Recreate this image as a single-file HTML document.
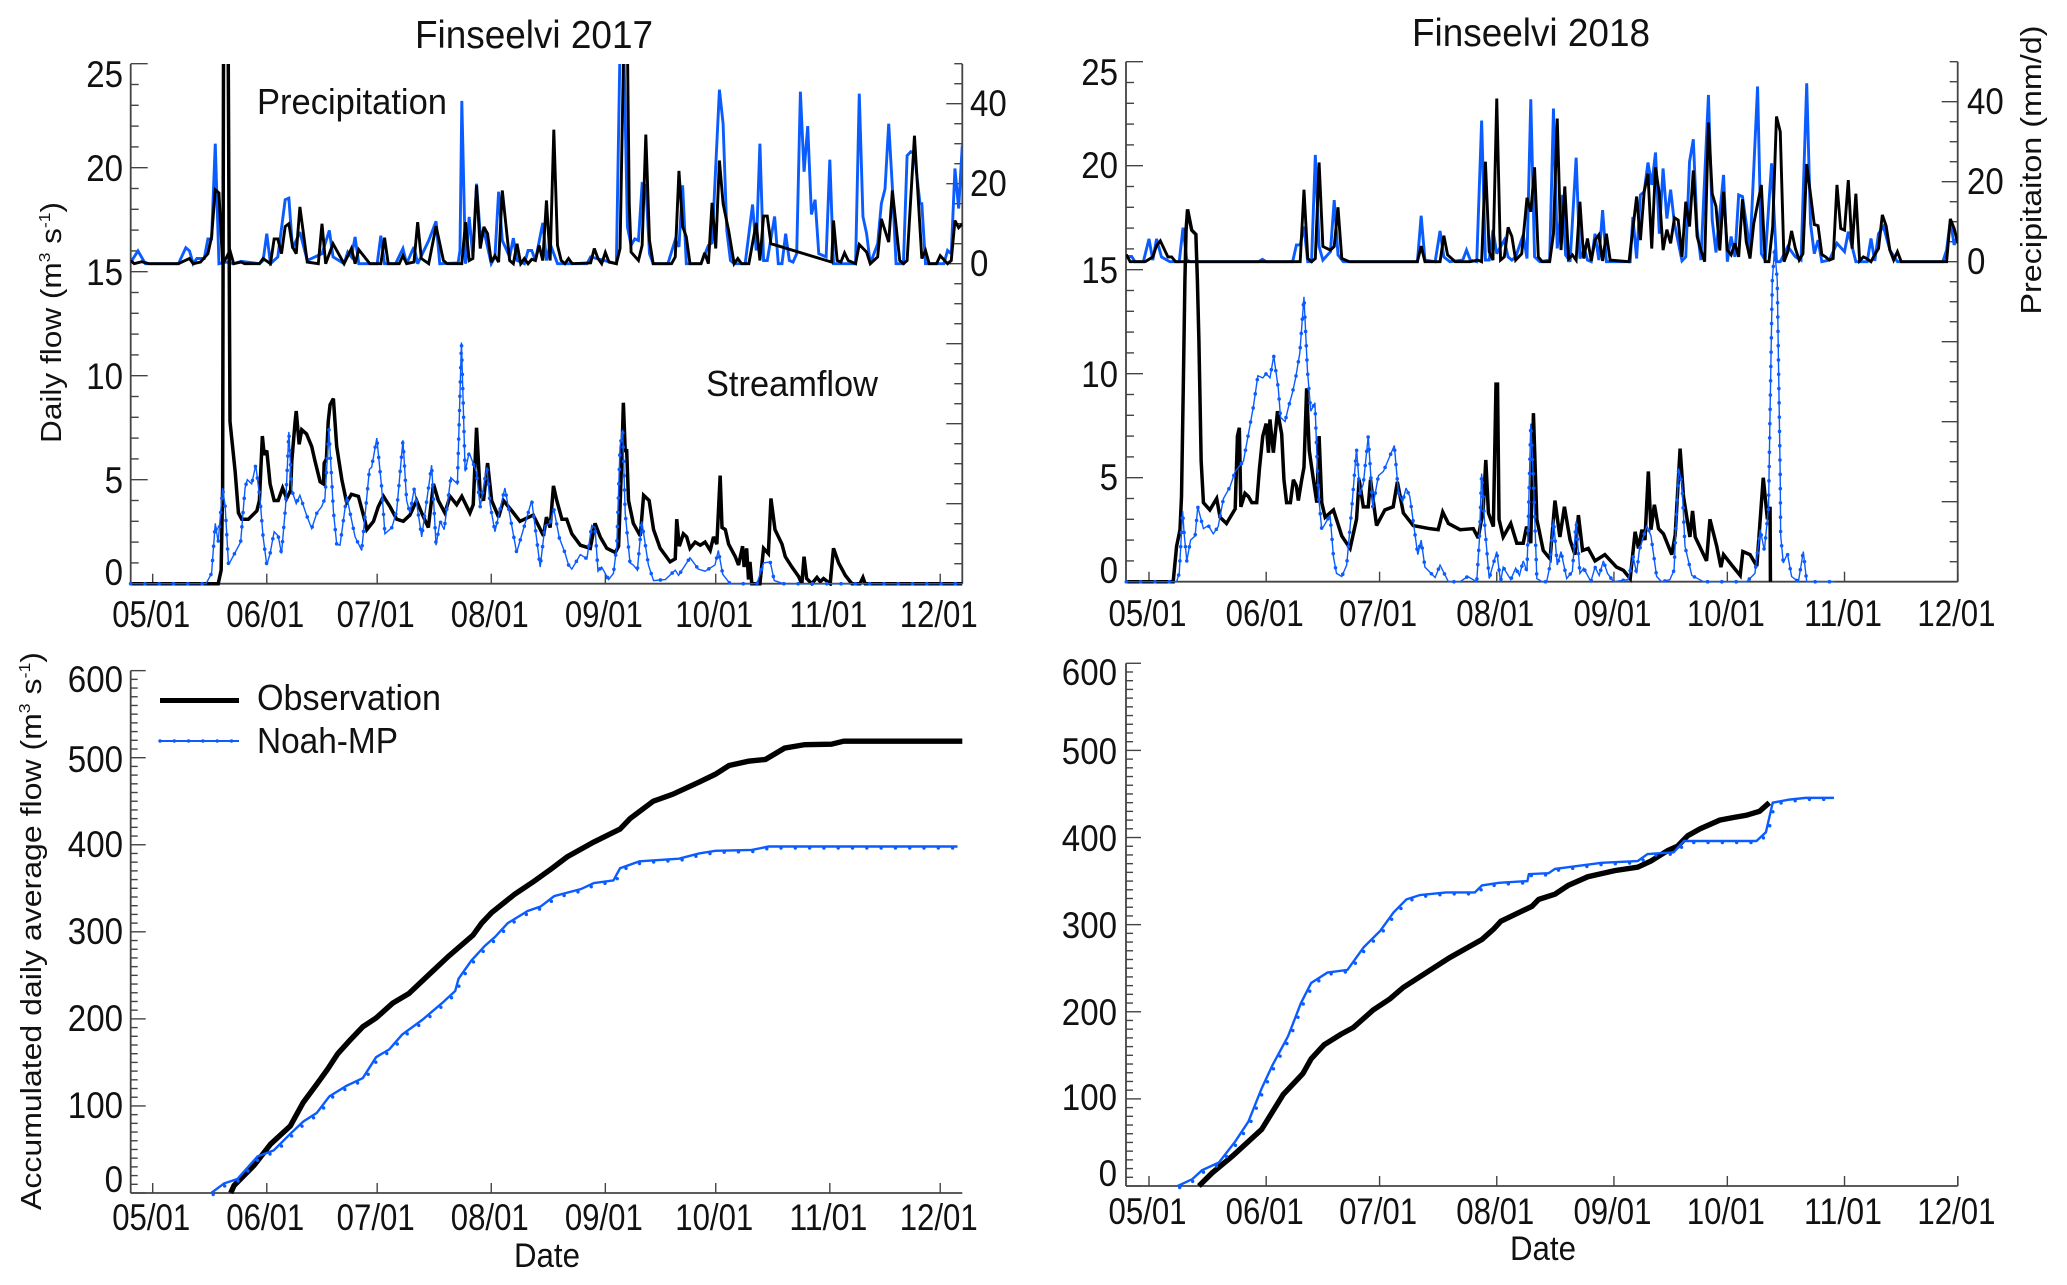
<!DOCTYPE html>
<html lang="en">
<head>
<meta charset="utf-8">
<title>Finseelvi streamflow 2017 and 2018</title>
<style>
html,body{margin:0;padding:0;background:#fff;}
svg{display:block;}
text{font-family:"Liberation Sans",sans-serif;fill:#111;}
</style>
</head>
<body>
<svg id="figure" xmlns="http://www.w3.org/2000/svg" width="2067" height="1285" viewBox="0 0 2067 1285">
  <defs>
    <clipPath id="clip-tl"><rect x="130.7" y="64" width="831.6" height="522"/></clipPath>
    <clipPath id="clip-tr"><rect x="1126" y="61.7" width="831.7" height="522"/></clipPath>
  </defs>
  <rect width="2067" height="1285" fill="#fff"/>
  <text x="534" y="48" font-size="39" text-anchor="middle" textLength="238" lengthAdjust="spacingAndGlyphs">Finseelvi 2017</text>
  <text x="1531" y="46" font-size="39" text-anchor="middle" textLength="238" lengthAdjust="spacingAndGlyphs">Finseelvi 2018</text>
  <text x="257" y="114" font-size="36" textLength="190" lengthAdjust="spacingAndGlyphs">Precipitation</text>
  <text x="706" y="396" font-size="36" textLength="172" lengthAdjust="spacingAndGlyphs">Streamflow</text>
  <text transform="translate(61,322.5) rotate(-90)" font-size="29" text-anchor="middle" textLength="241" lengthAdjust="spacingAndGlyphs">Daily flow (m<tspan font-size="16" dy="-11">3</tspan><tspan dy="11"> s</tspan><tspan font-size="16" dy="-11">-1</tspan><tspan dy="11">)</tspan></text>
  <text transform="translate(41,931) rotate(-90)" font-size="29" text-anchor="middle" textLength="558" lengthAdjust="spacingAndGlyphs">Accumulated daily average flow (m<tspan font-size="16" dy="-11">3</tspan><tspan dy="11"> s</tspan><tspan font-size="16" dy="-11">-1</tspan><tspan dy="11">)</tspan></text>
  <text transform="translate(2041,170) rotate(-90)" font-size="29" text-anchor="middle" textLength="289" lengthAdjust="spacingAndGlyphs">Precipitaiton (mm/d)</text>
  <text x="547" y="1267" font-size="34" text-anchor="middle" textLength="66" lengthAdjust="spacingAndGlyphs">Date</text>
  <text x="1543" y="1260" font-size="34" text-anchor="middle" textLength="66" lengthAdjust="spacingAndGlyphs">Date</text>
  <g>
    <line x1="160" y1="700.5" x2="239" y2="700.5" stroke="#000" stroke-width="5"/>
    <text x="257" y="710" font-size="36" textLength="184" lengthAdjust="spacingAndGlyphs">Observation</text>
    <g id="legend-noah">
      <line x1="160" y1="741" x2="239" y2="741" stroke="#0a5cff" stroke-width="2"/>
    </g>
    <text x="257" y="753" font-size="36" textLength="141" lengthAdjust="spacingAndGlyphs">Noah-MP</text>
  </g>
  <g id="axes"></g>
  <g id="marks"></g>
</svg>
<script>
const tickMonthDays = [0, 31, 61, 92, 123, 153, 184, 214];
const tickMonthLabels = ['05/01', '06/01', '07/01', '08/01', '09/01', '10/01', '11/01', '12/01'];
const flowTickValues = [0, 5, 10, 15, 20, 25];
const precipTickValues = [0, 20, 40];
const accumTickValues = [0, 100, 200, 300, 400, 500, 600];

const precipBlue2017 = [[-6,.3],[-4,3.2],[-2,0],[7,0],[9,4],[10,3.2],[11,0],[12,1.3],[14,1.3],[15,6.2],[16,6.2],[17,30],[18,0],[20,.4],[22,0],[24,.6],[29,0],[30,.8],[31,7.5],[32,0],[34,1.7],[36,16],[37,16.4],[38,3.8],[40,7.9],[42,.8],[46,2.5],[48,8.3],[49,1.7],[52,0],[53,2.9],[54,1.7],[55,6.7],[56,0],[61,0],[62,7],[63,0],[66,0],[68,3.8],[69,0],[71,4.2],[72,0],[75,5.8],[77,10.6],[78,0],[83,.2],[83.5,3.3],[84,40.7],[85,0],[86,11.7],[87,1.7],[88,20],[89,7.5],[90,8.3],[92,0],[93,1.7],[94,18],[95,5.8],[97,1.7],[98,6.4],[99,.8],[101,0],[102,3.3],[103,3.3],[104,.8],[106,10.2],[107,.8],[108,5],[110,0],[118,0],[119,1.7],[126,0],[127,55],[128,55],[129,9.2],[130,4.6],[131,6.2],[132,5.8],[133,20],[134,19.6],[135,2.5],[136,0],[140,0],[142,6],[143,4.2],[144,19.6],[145,0],[149,0],[151,4.6],[152,5.2],[154,43.5],[155,35],[156,8.3],[157,.8],[158,0],[161,0],[163,14.8],[164,3.3],[165,30],[166,.8],[167,.8],[169,11.8],[170,0],[171,0],[172,7.5],[173,.8],[174,.4],[175,2.5],[176,43],[177,23],[178,34.4],[179,12.3],[180,16],[181,2.5],[183,1.7],[184,26],[185,0],[186,0],[191,0],[192,42.5],[193,11.8],[194,7.5],[195,0],[197,5],[198,15],[199,18.7],[200,35],[201,19],[202,0],[204,0],[205,27],[206,28],[207,27.5],[208.5,15],[209,15],[210,0],[215,0],[216,3.3],[217,2.5],[218,23.8],[219,13.8],[220,29.6]];
const precipBlack2017 = [[-6,.8],[-5,0],[-3,.5],[-1,0],[7,0],[10,1.3],[11,0],[13,.4],[15,2.5],[16,6.7],[17,18.5],[18,17.7],[19,0],[20,1.5],[21,3.3],[22,0],[24,.4],[25,0],[29,0],[30,1.3],[32,0],[33,6.2],[34,6.2],[35,2.5],[36,9.3],[37,10],[38,4.2],[39,2.5],[40,14.2],[42,.4],[45,0],[46,10],[47,0],[49,5],[52,0],[54,3.8],[55,0],[56,3.5],[59,0],[62,0],[63,6.5],[64,0],[67,0],[68,2],[69,0],[71,.4],[72,10.4],[73,1.3],[75,0],[77,9.4],[79,.8],[80,0],[84,0],[85,10.4],[86,.8],[87,1.3],[88,19.6],[89,3.8],[90,9.2],[91,7.5],[92,.4],[93,2],[94,.4],[95,18.3],[97,.8],[98,0],[99,5],[100,0],[101,1.3],[102,0],[103,1.1],[104,.8],[105,4.6],[106,.8],[107,15.8],[108,.8],[109,33.5],[110,4.6],[111,.8],[112,0],[113,1.3],[114,0],[119,.2],[120,3.8],[121,1.3],[122,0],[123,2.8],[124,.4],[126,0],[127,3.8],[128,55],[129,55],[129.5,15],[130,2.9],[132,.8],[133,4.6],[134,32.3],[135,5.8],[136,0],[141,0],[142,1.7],[143,23.2],[144,9.3],[145,6.7],[146,0],[149,0],[150,2.7],[151,0],[152,15.2],[153,3.8],[154,25.8],[155,15],[156.5,8.3],[158,0],[159,1.3],[160,0],[162,0],[164,10.2],[165,.8],[166,11.9],[167,11.9],[168,5],[184.5,.4],[185,10.8],[186,.8],[187,.4],[188,2.7],[189,.8],[191,0],[192,4.8],[194,2.9],[195,0],[197,1.7],[198,11.2],[200,5.4],[201,18.3],[203,.8],[204,0],[205,.8],[207,32],[209,1.3],[210,3.3],[211,0],[213,0],[214,2],[216,0],[217,.8],[218,10.8],[219,9],[220,10]];
const flowObs2017 = [[-6,0],[17.8,0],[18.6,.65],[19,4.6],[19.3,30],[20.4,30],[21,7.8],[22.4,5.4],[23.3,3.4],[24.2,3.1],[26,3.1],[28.3,3.5],[29,4],[29.8,7.1],[30.3,6.2],[31,6.4],[31.9,4.8],[33,4],[34.1,4],[35.3,4.6],[36.4,4.1],[37.5,4.5],[37.8,5.9],[38.7,7.8],[39,8.3],[39.8,6.7],[40.5,7.4],[41.8,7.2],[43.2,6.6],[44.1,5.9],[45.5,4.9],[46.4,4.8],[46.6,5.8],[47.2,6],[47.7,7.8],[48.2,8.6],[49.1,8.9],[50,6.6],[51.4,5],[52.7,3.9],[54,4.3],[55.9,4.2],[57.7,3],[58.2,2.6],[60,3],[61.3,3.7],[62.7,4.2],[64.5,3.7],[66.3,3.1],[68.1,3],[69.9,3.3],[71.7,4],[73.1,3.4],[74.9,2.7],[76.3,4.8],[77.6,4],[79.4,3.4],[80.8,4.2],[82.6,3.8],[84,4.2],[86.2,3.4],[87.1,3.8],[88,7.5],[89,4.3],[89.9,4],[91,5.8],[92.1,4],[94,3.2],[95.3,4],[97.6,3.5],[99.8,3],[103.4,3.3],[106.2,2.3],[107,3.2],[108,2.7],[108.9,4.7],[109.8,4],[111.2,3.1],[112.5,3.1],[113.9,2.4],[116.2,1.85],[118.9,1.7],[120.2,2.9],[121.6,2.25],[123.4,1.7],[125.7,1.5],[126.6,1.8],[127.5,6.2],[127.9,8.7],[128.4,6.4],[128.8,6.4],[129.3,4],[130.6,2.9],[132.5,2.3],[133.4,4.25],[134.3,4.1],[134.9,4],[136.1,2.6],[137.9,1.7],[140.6,1.05],[142,1.2],[142.4,3.1],[143.1,1.8],[144.2,2.4],[145.1,2.25],[146,1.7],[147.4,2],[148.8,1.85],[150.1,2],[151.5,1.6],[152.4,2.25],[153.3,1.9],[154.2,5.2],[154.7,2.7],[155.6,2.6],[156.5,1.9],[158.3,1.3],[159.2,.9],[160.3,1.8],[160.7,.8],[161.4,1.7],[161.9,.2],[162.3,1.05],[162.8,0],[165,0],[166,1.7],[167.3,1.45],[168,4.1],[169.1,2.6],[171,1.9],[171.9,1.3],[173.7,.8],[175.5,.35],[176.4,0],[177,1.3],[177.7,.25],[179.1,0],[180.5,.3],[181.4,.1],[182.3,.25],[184.1,0],[185,1.7],[186.4,1],[188.2,.4],[190,0],[192.2,0],[193,.3],[193.6,0],[220,0]];
const flowModel2017 = [[-6,0],[14.5,0],[16,.5],[17,2.9],[17.8,2],[19,4.6],[19.7,3.7],[20.6,.9],[22.4,1.5],[23.9,2],[25.1,4.6],[25.7,5],[26.9,4.8],[28,5.7],[29.2,4],[30,2.25],[31,.9],[31.9,1.45],[33,2.5],[34.1,2.3],[35,1.45],[36.1,3.7],[37,7.3],[37.8,4.5],[39,3.85],[40,4.25],[41.8,3.3],[43.2,2.65],[44.6,3.4],[45.9,3.7],[46.8,4.1],[47.9,7.4],[49.1,3.5],[50,1.9],[50.9,1.85],[52.7,4.2],[55,2.25],[56.8,1.6],[58.9,5.5],[59.5,5.6],[60.9,7],[62.2,4.65],[63.1,2.4],[65,2.7],[66.3,3.5],[68,6.9],[69,4],[69.9,3.4],[71.1,4.6],[73.1,2.25],[75.8,5.7],[77,1.85],[78.1,3],[79.2,2.6],[81,5.1],[82.8,4.8],[83.9,11.6],[84.9,5.4],[86,6.3],[87.9,5.4],[89,3.7],[90.8,5.6],[91.7,3.8],[93,2.5],[95.7,4.6],[98.9,1.5],[103,4],[105.3,.8],[106.6,2.8],[108,2.9],[109,3.6],[110.5,2.2],[112,1.5],[113,.9],[113.9,.7],[116.2,1.4],[118,1.2],[119.3,2.8],[120.2,2.7],[121,.6],[122,.8],[123.9,.2],[125.2,.5],[126.1,1.8],[127,6.6],[127.7,7.4],[128.4,3.4],[129.7,1],[130.6,.9],[131.7,.65],[132.9,3],[134.7,.9],[136.1,.15],[139.3,.2],[142,.65],[142.9,.4],[146,1.25],[148.3,.7],[150.1,.6],[152.8,.9],[153.7,1.6],[154.9,.45],[156.9,0],[164.2,0],[166,1],[167.8,1.05],[168.9,.15],[171.4,0],[220,0]];
const accumObs2017 = [[21.2,0],[22.1,8.5],[27.6,32],[32,56],[37.4,77],[40.9,104],[44.6,125],[47.5,142],[50.3,160],[53.5,175],[57.1,191],[60.7,201],[65.2,218],[69.6,229],[75.1,251],[80.4,272],[87,296],[89.4,310],[92.1,322],[98.3,343],[103.6,358],[108.2,372],[112.6,386],[119.8,403],[127,418],[129.7,430],[136,450],[141.3,458],[148.5,472],[152.9,481],[156.6,491],[161.9,496],[166.5,498],[171.7,511],[177.2,515],[184.4,515.5],[187.8,519],[220,519]];
const accumModel2017 = [[15.9,0],[19.4,11],[23,16],[28.5,42],[32.9,49],[37.4,68],[40.9,82],[44.6,92],[48,111],[52.6,123],[57.1,132],[60.7,156],[64.3,165],[67.8,182],[73.3,199],[78.6,218],[82.2,232],[83.1,246],[86.6,267],[90.3,284],[93,294],[96.5,310],[101.9,324],[105.4,329],[109.1,341],[116.3,349],[119.9,356],[125.2,359],[127,373],[132.3,381],[143,384],[148.5,390],[152.9,393],[162.8,394],[167.4,398],[218.7,398]];

const precipBlue2018 = [[-6,1.3],[-4.6,1.3],[-3.7,0],[-1.5,0],[0,5.7],[1,.4],[2,5.7],[3.3,1.2],[5.5,0],[8,0],[9,8.5],[10,.4],[11,0],[29,0],[30,.6],[31,0],[38,0],[39,4.2],[40,4.2],[41,8.8],[42,0],[43,0],[44,26.7],[45,3.8],[46,.4],[48,2.5],[49,15.4],[50,1.7],[51.4,0],[71,0],[72,11.5],[73,.4],[75.7,0],[77,7.7],[78,1.2],[79.6,0],[83,.4],[84,2.9],[85,.4],[86.7,0],[88,35.3],[89,.4],[90,.4],[91,7.9],[92,2],[94,5.4],[95,1.2],[96,.4],[97,1.2],[99,6.7],[100,.8],[101,40.6],[102,1.2],[103.4,0],[106,.4],[107,38.3],[108,3.3],[109.4,16.7],[110.2,1.7],[111.4,0],[113,26],[114,.8],[115.2,3.3],[116,.4],[117,0],[118,7],[119,.4],[120,12.9],[121,0],[127.3,0],[128,11.2],[129,.8],[130,16.7],[131,17.5],[132,24.8],[133,19.2],[134,27.3],[135,7],[136,23.3],[137,10.8],[138,18],[139,9.6],[141,.2],[142,1.2],[143,25],[144,30.6],[145,8.3],[146,.4],[148,41.7],[149,10.4],[150,2.3],[152,21.7],[153,0],[154,6.3],[155,1.2],[156,16.7],[157,16.3],[159,2.9],[161,43.8],[162,2],[163,.4],[164.7,24.6],[166,0],[167,0],[169,3.8],[171,1.2],[172.5,.4],[174,44.6],[175,9.6],[176,2],[177,5.4],[178,0],[180,.4],[182,4.6],[184,2.5],[185,7.5],[186,3.8],[187,0],[190,0],[191,5.8],[192,.2],[193,7],[194.3,8.8],[196,2.9],[198,0],[210,0],[211,2.9],[212,10.4],[213,4.2],[214,6.7]];
const precipBlack2018 = [[-6,1.8],[-5,0],[-1,0],[1,1.2],[2,4],[3,5.2],[5,1.2],[6,1.2],[7,0],[40,0],[41,18],[42,.8],[43,0],[44,.8],[45,24.8],[46,3.8],[48,2.9],[49,3.8],[50,13.6],[51,.8],[53,0],[71,0],[72,3.9],[73,0],[77,0],[78,6.5],[79,1.7],[81,0],[85,0],[87,.4],[88,0],[89,25],[90,2.5],[91,.4],[92,40.8],[93,.4],[94,1.2],[95,8.6],[96,6.3],[97,.4],[98.6,2],[100,16],[101,12.5],[102,23.6],[103,1.2],[104,0],[106,0],[107,7],[108,35.8],[109,2.9],[110,18.8],[111,.7],[112,1.7],[113,.4],[114,15],[115,.8],[116,5.8],[117,.2],[118,5.4],[119,6.7],[120,.2],[121,7],[122,.4],[127,0],[129,16.3],[130,5.4],[131,17.5],[132,22],[133,3.3],[134,23.6],[135,17],[136,2.9],[137,8],[138,4.6],[139,11],[140,10.4],[141,1.2],[142,15],[143,8.8],[144,22.8],[145,6.3],[146,2.9],[147,0],[148,34.8],[149,17],[150,13.8],[151,2.8],[152,17.5],[153,2.9],[154,1.7],[155,4.6],[156,1.2],[157,15.6],[158,5],[159,.8],[160,9.6],[162,19.2],[163,0],[164,0],[165,8.8],[166,36.3],[167,32.5],[168,0],[169,2.5],[170,7.7],[171,3.3],[172,.4],[173,2],[174,24.4],[176,9.3],[177,9],[178,1.8],[179,1.2],[180,.4],[181,.8],[182,19.2],[183,8.3],[184,7.9],[185,20.4],[186,3.3],[187,17],[188,.2],[189,1.2],[190,.7],[191,0],[192,1.8],[193,3.3],[194,11.7],[195,9],[196,2.9],[197,.4],[198,2.5],[199,0],[211,0],[212,10.7],[213,8.3],[214,4.6]];
const flowObs2018 = [[-6,0],[6.4,0],[7.3,1.7],[8.2,2.5],[8.6,4.1],[9.1,9.7],[9.5,14.5],[9.8,16.9],[10.2,17.9],[11.3,16.9],[12.4,16.7],[12.8,14.5],[13.2,11.6],[13.8,5.8],[14.4,3.8],[16.1,3.45],[17.9,4],[18.8,3.1],[20.5,2.8],[22.8,3.5],[23.4,7],[23.9,7.4],[24.3,3.6],[25.4,4.25],[26.3,4.1],[27.2,3.8],[28.5,3.8],[29.2,5.4],[30.1,7],[31,7.6],[31.6,6.2],[32,7.8],[32.9,6.2],[34,8.2],[35.1,7.1],[35.7,4.9],[36.4,3.8],[37.4,3.8],[38.2,4.9],[39,4.6],[39.5,3.9],[40.4,4.9],[41,5.5],[41.7,9.3],[42.4,6.3],[43.5,4.9],[44.4,3.8],[45,7],[45.7,3.8],[46.6,3.1],[48.8,3.45],[51,2.2],[53.2,1.6],[54.9,3],[55.6,4.9],[56.7,3.6],[58,3.6],[58.6,4.9],[60.2,2.7],[62.4,3.45],[64.6,3.6],[65.7,4.8],[67.3,3.3],[69.9,2.7],[74.3,2.55],[76.5,2.5],[77.7,3.35],[79.2,2.8],[82.3,2.5],[85.8,2.55],[87.1,2.1],[88.4,3.45],[89.1,5.85],[89.8,3.3],[91.1,2.65],[91.8,9.5],[92.2,9.5],[92.6,3],[93.7,2.15],[95.7,2.8],[97.3,1.85],[99,1.85],[99.9,2.65],[101,1.85],[101.7,8.1],[102.6,3],[104.3,1.5],[106.1,1.1],[107.4,3.9],[108.7,2.15],[109.9,3.6],[111.4,2],[112.7,1.3],[113.6,3.2],[114.7,1.5],[116.2,1.6],[118,1],[120.6,1.3],[123.7,.7],[125.5,.55],[127.3,.15],[128.6,2.4],[129.5,1.6],[130.4,2.5],[131.2,2],[132.1,5.3],[132.8,2.5],[133.7,3.7],[134.8,2.55],[136.1,2.3],[138.3,1.3],[139.2,2.25],[140.5,6.4],[141.4,4.1],[143.1,2.15],[143.8,3.4],[144.5,2.15],[147.5,1],[148.4,3],[150.2,1.7],[151.3,.7],[152,1.3],[154.6,.7],[156.4,.3],[157.1,1.45],[159,1.3],[160.8,.75],[162.5,5],[163.6,3],[164.3,3.6],[164.4,0]];
const flowModel2018 = [[-6,0],[7.3,0],[8,.4],[8.4,1.7],[8.9,3.4],[9.3,2.3],[10,1],[11,2],[12.2,2.2],[12.9,3.6],[14.4,2.55],[15.7,2.7],[17,2.3],[18.3,2.65],[19.7,4],[21.4,4.55],[22.8,5.3],[25,5.8],[26.3,7.1],[27.6,8.4],[28.8,9.9],[30.1,9.8],[31,10],[32,9.8],[33,10.85],[34.2,9.3],[34.8,7.9],[36,7.7],[36.9,8.4],[37.9,9.05],[38.8,9.8],[39.9,11],[41,13.7],[41.9,10.2],[42.8,8.2],[43.9,8.6],[44.8,4.25],[45.7,2.5],[47.9,3.2],[48.8,1.2],[49.6,.4],[51,.25],[52.3,.8],[53.6,3.45],[54.9,6.4],[55.8,4.25],[56.7,4.7],[58,7],[59.2,3.6],[60.7,5.1],[62,5.3],[64.9,6.55],[66,4.25],[67.1,3.85],[68,4.5],[69,4.1],[71.1,1.3],[72,2],[73,.7],[75.7,.2],[77,.8],[79.2,0],[82.3,0],[84.3,.25],[86.7,0],[87.4,2],[88,5.2],[88.9,2.5],[90,.15],[92,1.45],[93,0],[93.7,.7],[95.7,.1],[97,.65],[98,.3],[99,1],[100,.5],[101,7.6],[101.7,4.9],[102.6,.15],[104,0],[105.2,0],[106,.7],[107,3],[108,.8],[109,1.45],[110.5,.15],[112,.5],[113,2.9],[114,.4],[115,.65],[116.9,0],[118,.7],[119.1,.3],[120.2,1],[121.3,.4],[122.9,0],[126.8,.1],[128.1,1.2],[129,.4],[129.7,1.5],[131.7,2.7],[132.8,2.2],[134.3,.25],[135.6,0],[137.8,.1],[138.9,.55],[140.1,5.45],[141,4.7],[141.8,1.7],[143.6,.3],[146.7,0],[158.1,0],[160.3,.4],[161.7,2.5],[162.8,1.5],[163.9,3.6],[164.3,8.1],[164.9,14.5],[165.5,16],[166.2,14.5],[167,4.9],[167.1,2.25],[167.8,.9],[168.9,1.35],[170,.25],[171.8,0],[173.1,1.45],[174,0],[181.5,0]];
const accumObs2018 = [[13.2,0],[16.7,15],[22,34],[29.8,65],[35.5,105],[40.7,129],[42.9,146],[46.3,162],[50.7,174],[54.1,182],[59.3,202],[63.8,215],[67.3,228],[70.9,238],[79.5,262],[88.1,283],[91.2,295],[93.1,304],[101.3,321],[103.1,329],[107.4,335],[110.9,345],[116.1,355],[123.2,362],[129.3,366],[132.8,373],[137.2,385],[139.8,390],[142.5,402],[145.8,410],[151,420],[154.6,423],[158,425.5],[161.5,430],[164.1,440]];
const accumModel2018 = [[7.6,0],[11.5,8],[14,18],[18.5,27],[22.8,51],[26.3,74],[29.8,112],[32.7,139],[36.8,172],[40.2,210],[42.9,233],[47.2,245],[52.5,248],[56.8,274],[61.2,293],[64.7,314],[68.1,329],[71.7,334],[78.6,337],[86.2,337],[88.1,345],[92.6,348],[100.1,350],[100.5,358],[105.7,359],[107.4,364],[112.7,367],[119.7,371],[129.3,373],[131.9,381],[138.8,383],[141.5,396],[160.7,396],[163.2,406],[165,440],[169.4,443.5],[173.7,445.5],[181.2,445.5]];

const SVGNS = 'http://www.w3.org/2000/svg';
const axesLayer = document.getElementById('axes');
const marksLayer = document.getElementById('marks');
const BLUE = '#0a5cff';
const AXIS = '#444';

const x2017 = d => 152.7 + 3.68 * d;
const x2018 = d => 1149 + 3.78 * d;
const yFlow2017 = v => 583.7 - 20.8 * v;
const yFlow2018 = v => 581.7 - 20.8 * v;
const yPrecip2017 = v => 263.7 - 4 * v;
const yPrecip2018 = v => 261.7 - 4 * v;
const yAccum2017 = v => 1193 - 0.8706 * v;
const yAccum2018 = v => 1186 - 0.8712 * v;

function tick(x1, y1, x2, y2, width) {
  const el = document.createElementNS(SVGNS, 'line');
  
  
  el.setAttribute('x1', x1);
  el.setAttribute('y1', y1);
  el.setAttribute('x2', x2);
  el.setAttribute('y2', y2);
  el.setAttribute('stroke', AXIS);
  el.setAttribute('stroke-width', width || 1.4);
  axesLayer.appendChild(el);
}

function label(str, x, y, anchor, len) {
  const el = document.createElementNS(SVGNS, 'text');
  
  
  el.setAttribute('x', x);
  el.setAttribute('y', y);
  el.setAttribute('font-size', '37');
  el.setAttribute('text-anchor', anchor);
  el.setAttribute('textLength', len);
  el.setAttribute('lengthAdjust', 'spacingAndGlyphs');
  el.textContent = str;
  axesLayer.appendChild(el);
}

function xAxis(xf, left, right, base, labelBase) {
  tick(left, base, right, base, 1.8);
  tickMonthDays.forEach((d, i) => {
    tick(xf(d), base, xf(d), base - 10);
    label(tickMonthLabels[i], xf(d) - 1.5, labelBase, 'middle', 78);
  });
}

function flowAxis(yf, left, top, base, labelRight, labelBaselines) {
  tick(left, top, left, base, 1.8);
  for (let v = 0; v <= 25; v++) {
    tick(left, yf(v), left + (v % 5 === 0 ? 17 : 8), yf(v));
  }
  flowTickValues.forEach((v, i) => {
    label(String(v), labelRight, labelBaselines[i], 'end', String(v).length * 18.4);
  });
}

function precipAxis(yf, right, top, base, labelLeft, labelBaselines) {
  tick(right, top, right, base, 1.8);
  for (let v = -80; v <= 50; v += 5) {
    tick(right, yf(v), right - (v % 20 === 0 ? 16 : 8), yf(v));
  }
  precipTickValues.forEach((v, i) => {
    label(String(v), labelLeft, labelBaselines[i], 'start', String(v).length * 18.4);
  });
}

function accumAxis(yf, left, labelRight, labelBaselines) {
  tick(left, yf(600), left, yf(0), 1.8);
  for (let v = 0; v <= 600; v += 10) {
    tick(left, yf(v), left + (v % 100 === 0 ? 15 : 7), yf(v));
  }
  accumTickValues.forEach((v, i) => {
    label(String(v), labelRight, labelBaselines[i], 'end', String(v).length * 18.4);
  });
}

function seriesPath(data, xf, yf, color, width, clip, name) {
  const path = document.createElementNS(SVGNS, 'path');
  
  
  const d = data.map((p, i) => (i ? 'L' : 'M') + xf(p[0]).toFixed(2) + ' ' + yf(p[1]).toFixed(2)).join('');
  path.setAttribute('d', d);
  path.setAttribute('fill', 'none');
  path.setAttribute('stroke', color);
  path.setAttribute('stroke-width', width);
  path.setAttribute('stroke-linejoin', 'miter');
  path.setAttribute('stroke-miterlimit', '3');
  if (clip) {
    path.setAttribute('clip-path', 'url(#' + clip + ')');
  }
  marksLayer.appendChild(path);
  return path;
}

function dotsAlong(path, offX, offY, r, parent) {
  const total = path.getTotalLength();
  for (let s = 0; s <= total; s += 14.3) {
    const pt = path.getPointAtLength(s);
    const dot = document.createElementNS(SVGNS, 'circle');
    
    
    dot.setAttribute('cx', (pt.x + offX).toFixed(2));
    dot.setAttribute('cy', (pt.y + offY).toFixed(2));
    dot.setAttribute('r', r);
    dot.setAttribute('fill', BLUE);
    parent.appendChild(dot);
  }
}

xAxis(x2017, 130.7, 962.3, 583.7, 627);
xAxis(x2018, 1126, 1957.7, 581.7, 626);
xAxis(x2017, 130.7, 962.3, 1193, 1230);
xAxis(x2018, 1126, 1957.7, 1186, 1224);
tick(1957.7, 1186, 1957.7, 1176);

flowAxis(yFlow2017, 130.7, 64, 583.7, 123, [585, 493, 389, 285, 181, 87]);
flowAxis(yFlow2018, 1126, 61.7, 581.7, 1118, [583, 490, 387, 283, 178, 85]);
precipAxis(yPrecip2017, 962.3, 64, 583.7, 970, [276, 196, 116]);
precipAxis(yPrecip2018, 1957.7, 61.7, 581.7, 1967, [274, 194, 114]);
accumAxis(yAccum2017, 130.7, 123, [1192, 1118, 1031, 944, 857, 772, 692]);
accumAxis(yAccum2018, 1126, 1117, [1186, 1110, 1025, 938, 851, 764, 685]);

seriesPath(precipBlue2017, x2017, yPrecip2017, BLUE, 2.9, 'clip-tl', 'precipitation-blue-2017');
seriesPath(precipBlack2017, x2017, yPrecip2017, '#000', 2.9, 'clip-tl', 'precipitation-black-2017');
seriesPath(flowObs2017, x2017, yFlow2017, '#000', 3.5, 'clip-tl', 'streamflow-observation-2017');
const flowLine2017 = seriesPath(flowModel2017, x2017, yFlow2017, BLUE, 1.4, 'clip-tl', 'streamflow-noah-mp-2017');
dotsAlong(flowLine2017, 0, 0, 1.8, marksLayer);

seriesPath(precipBlue2018, x2018, yPrecip2018, BLUE, 2.9, 'clip-tr', 'precipitation-blue-2018');
seriesPath(precipBlack2018, x2018, yPrecip2018, '#000', 2.9, 'clip-tr', 'precipitation-black-2018');
seriesPath(flowObs2018, x2018, yFlow2018, '#000', 3.5, 'clip-tr', 'streamflow-observation-2018');
const flowLine2018 = seriesPath(flowModel2018, x2018, yFlow2018, BLUE, 1.4, 'clip-tr', 'streamflow-noah-mp-2018');
dotsAlong(flowLine2018, 0, 0, 1.8, marksLayer);

seriesPath(accumObs2017, x2017, yAccum2017, '#000', 5.4, null, 'accumulated-observation-2017');
const accumLine2017 = seriesPath(accumModel2017, x2017, yAccum2017, BLUE, 2.4, null, 'accumulated-noah-mp-2017');
dotsAlong(accumLine2017, 2, 1.5, 1.7, marksLayer);
seriesPath(accumObs2018, x2018, yAccum2018, '#000', 5.4, null, 'accumulated-observation-2018');
const accumLine2018 = seriesPath(accumModel2018, x2018, yAccum2018, BLUE, 2.4, null, 'accumulated-noah-mp-2018');
dotsAlong(accumLine2018, 2, 1.5, 1.7, marksLayer);

const legendLine = document.querySelector('#legend-noah line');
dotsAlong(legendLine, 0, 0, 1.7, document.getElementById('legend-noah'));
</script>
</body>
</html>
